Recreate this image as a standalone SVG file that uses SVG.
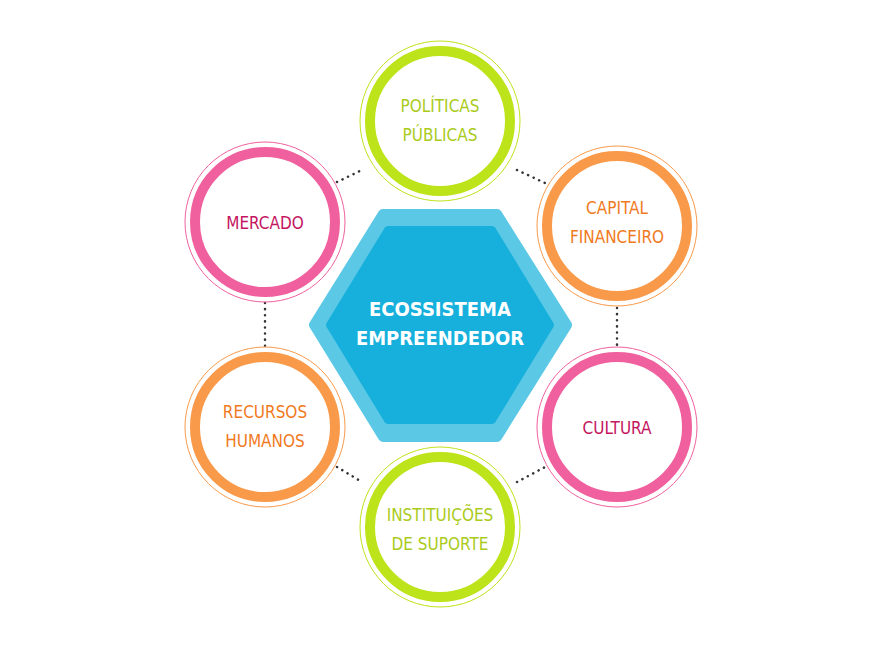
<svg xmlns="http://www.w3.org/2000/svg" width="875" height="645" viewBox="0 0 875 645">
<style>
.t{font-family:"DejaVu Sans Condensed","DejaVu Sans",sans-serif;font-stretch:condensed;font-size:17px;text-anchor:middle}
.thin{fill:none;stroke-width:1}
.thick{fill:#fff;stroke-width:10}
.dot{stroke:#333;stroke-width:2.5;stroke-dasharray:0.1 6;stroke-linecap:round;fill:none}
.g .thin,.g .thick{stroke:#bde31a}.g text{fill:#aacb1c}
.p .thin,.p .thick{stroke:#f0609e}.p text{fill:#c4165f}
.o .thin,.o .thick{stroke:#f99a4a}.o text{fill:#f07a22}
</style>
<rect width="875" height="645" fill="#fff"/>
<g id="connectors">
<path class="dot" d="M337,182 L362,170 M517,170 L545,183 M617,308 L617,346 M265,303 L265,346 M337,467 L362,482 M517,482 L545,467"/>
</g>
<g id="hub">
<polygon points="383,214 497,214 567,325 497,437 383,437 314,325" fill="#5bc8e6" stroke="#5bc8e6" stroke-width="10" stroke-linejoin="round"/>
<polygon points="388,230 492,230 550,325 492,420 388,420 330,325" fill="#17b0dc" stroke="#17b0dc" stroke-width="8" stroke-linejoin="round"/>
<text x="440" y="316" font-family="DejaVu Sans Condensed,DejaVu Sans,sans-serif" font-stretch="condensed" font-weight="bold" font-size="20" fill="#fff" text-anchor="middle">ECOSSISTEMA</text>
<text x="440" y="345" font-family="DejaVu Sans Condensed,DejaVu Sans,sans-serif" font-stretch="condensed" font-weight="bold" font-size="20" fill="#fff" text-anchor="middle">EMPREENDEDOR</text>
</g>
<g id="politicas" class="g"><circle class="thin" cx="440" cy="121" r="80"/><circle class="thick" cx="440" cy="121" r="70"/><text class="t" x="440" y="112">POLÍTICAS</text><text class="t" x="440" y="141">PÚBLICAS</text></g>
<g id="capital" class="o"><circle class="thin" cx="617" cy="226" r="80"/><circle class="thick" cx="617" cy="226" r="70"/><text class="t" x="617" y="214">CAPITAL</text><text class="t" x="617" y="243">FINANCEIRO</text></g>
<g id="cultura" class="p"><circle class="thin" cx="617" cy="427" r="80"/><circle class="thick" cx="617" cy="427" r="70"/><text class="t" x="617" y="434">CULTURA</text></g>
<g id="instituicoes" class="g"><circle class="thin" cx="440" cy="527" r="80"/><circle class="thick" cx="440" cy="527" r="70"/><text class="t" x="440" y="521">INSTITUIÇÕES</text><text class="t" x="440" y="550">DE SUPORTE</text></g>
<g id="recursos" class="o"><circle class="thin" cx="265" cy="427" r="80"/><circle class="thick" cx="265" cy="427" r="70"/><text class="t" x="265" y="418">RECURSOS</text><text class="t" x="265" y="447">HUMANOS</text></g>
<g id="mercado" class="p"><circle class="thin" cx="265" cy="222" r="80"/><circle class="thick" cx="265" cy="222" r="70"/><text class="t" x="265" y="229">MERCADO</text></g>
</svg>
